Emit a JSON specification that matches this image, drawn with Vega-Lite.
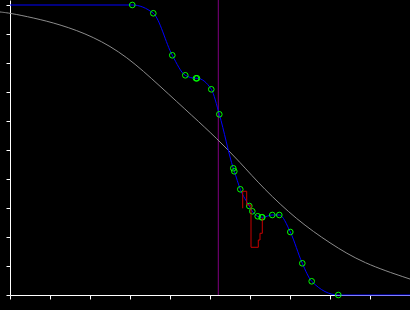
{
  "$schema": "https://vega.github.io/schema/vega-lite/v6.json",
  "width": 400,
  "height": 295,
  "autosize": {"type": "none"},
  "padding": {"left": 10, "top": 0, "right": 0, "bottom": 15},
  "background": "#000000",
  "config": {
    "view": {"stroke": null},
    "axis": {
      "grid": false,
      "labels": false,
      "title": null,
      "domainColor": "#ffffff",
      "domainWidth": 1,
      "tickColor": "#ffffff",
      "tickWidth": 1,
      "tickSize": 4,
      "values": [1, 2, 3, 4, 5, 6, 7, 8, 9]
    }
  },
  "datasets": {
    "curve": [
      {"x": -0.25, "y": 9.76},
      {"x": 0.0, "y": 9.72},
      {"x": 0.58, "y": 9.56},
      {"x": 1.25, "y": 9.33},
      {"x": 2.08, "y": 8.92},
      {"x": 2.92, "y": 8.24},
      {"x": 3.75, "y": 7.20},
      {"x": 4.58, "y": 6.15},
      {"x": 5.17, "y": 5.40},
      {"x": 5.75, "y": 4.58},
      {"x": 6.33, "y": 3.68},
      {"x": 7.17, "y": 2.59},
      {"x": 8.0, "y": 1.78},
      {"x": 8.83, "y": 1.09},
      {"x": 10.0, "y": 0.55}
    ],
    "blue": [
      {"x": 0.0, "y": 10.0, "pt": false},
      {"x": 3.0575, "y": 10.0, "pt": true},
      {"x": 3.5825, "y": 9.714, "pt": true},
      {"x": 4.0575, "y": 8.266, "pt": true},
      {"x": 4.3825, "y": 7.576, "pt": true},
      {"x": 4.65, "y": 7.472, "pt": true},
      {"x": 4.675, "y": 7.472, "pt": true},
      {"x": 5.0325, "y": 7.093, "pt": true},
      {"x": 5.2325, "y": 6.231, "pt": true},
      {"x": 5.5825, "y": 4.369, "pt": true},
      {"x": 5.6075, "y": 4.266, "pt": true},
      {"x": 5.7575, "y": 3.645, "pt": true},
      {"x": 5.9825, "y": 3.069, "pt": true},
      {"x": 6.0575, "y": 2.886, "pt": true},
      {"x": 6.1925, "y": 2.714, "pt": true},
      {"x": 6.2925, "y": 2.679, "pt": true},
      {"x": 6.3075, "y": 2.679, "pt": true},
      {"x": 6.5575, "y": 2.759, "pt": true},
      {"x": 6.7325, "y": 2.759, "pt": true},
      {"x": 7.0075, "y": 2.172, "pt": true},
      {"x": 7.3075, "y": 1.093, "pt": true},
      {"x": 7.5425, "y": 0.472, "pt": true},
      {"x": 8.2075, "y": 0.0, "pt": true},
      {"x": 10.0, "y": 0.0, "pt": false}
    ],
    "red": [
      {"x": 5.8175, "y": 2.990},
      {"x": 5.9175, "y": 3.576},
      {"x": 6.025, "y": 3.103},
      {"x": 6.2075, "y": 1.645},
      {"x": 6.25, "y": 1.897},
      {"x": 6.3075, "y": 2.128},
      {"x": 6.315, "y": 2.655}
    ],
    "vline": [
      {"x": 5.2075}
    ]
  },
  "layer": [
    {
      "data": {"name": "vline"},
      "mark": {"type": "rule", "color": "#800080", "strokeWidth": 1},
      "encoding": {
        "x": {"field": "x", "type": "quantitative", "scale": {"domain": [0, 10], "nice": false, "zero": false}, "axis": {"orient": "bottom"}}
      }
    },
    {
      "data": {"name": "curve"},
      "mark": {"type": "line", "color": "#8c8c8c", "strokeWidth": 1, "interpolate": "basis"},
      "encoding": {
        "x": {"field": "x", "type": "quantitative"},
        "y": {"field": "y", "type": "quantitative", "scale": {"domain": [0, 10.1724], "nice": false, "zero": false}, "axis": {"orient": "left"}}
      }
    },
    {
      "data": {"name": "blue"},
      "mark": {"type": "line", "color": "#0000ff", "strokeWidth": 1, "interpolate": "monotone"},
      "encoding": {
        "x": {"field": "x", "type": "quantitative"},
        "y": {"field": "y", "type": "quantitative"}
      }
    },
    {
      "data": {"name": "blue"},
      "transform": [{"filter": "datum.pt"}],
      "mark": {"type": "point", "shape": "circle", "filled": false, "color": "#00ff00", "strokeWidth": 1, "size": 32, "opacity": 1},
      "encoding": {
        "x": {"field": "x", "type": "quantitative"},
        "y": {"field": "y", "type": "quantitative"}
      }
    },
    {
      "data": {"name": "red"},
      "mark": {"type": "line", "color": "#c80000", "strokeWidth": 1, "interpolate": "step-before"},
      "encoding": {
        "x": {"field": "x", "type": "quantitative"},
        "y": {"field": "y", "type": "quantitative"}
      }
    }
  ]
}
